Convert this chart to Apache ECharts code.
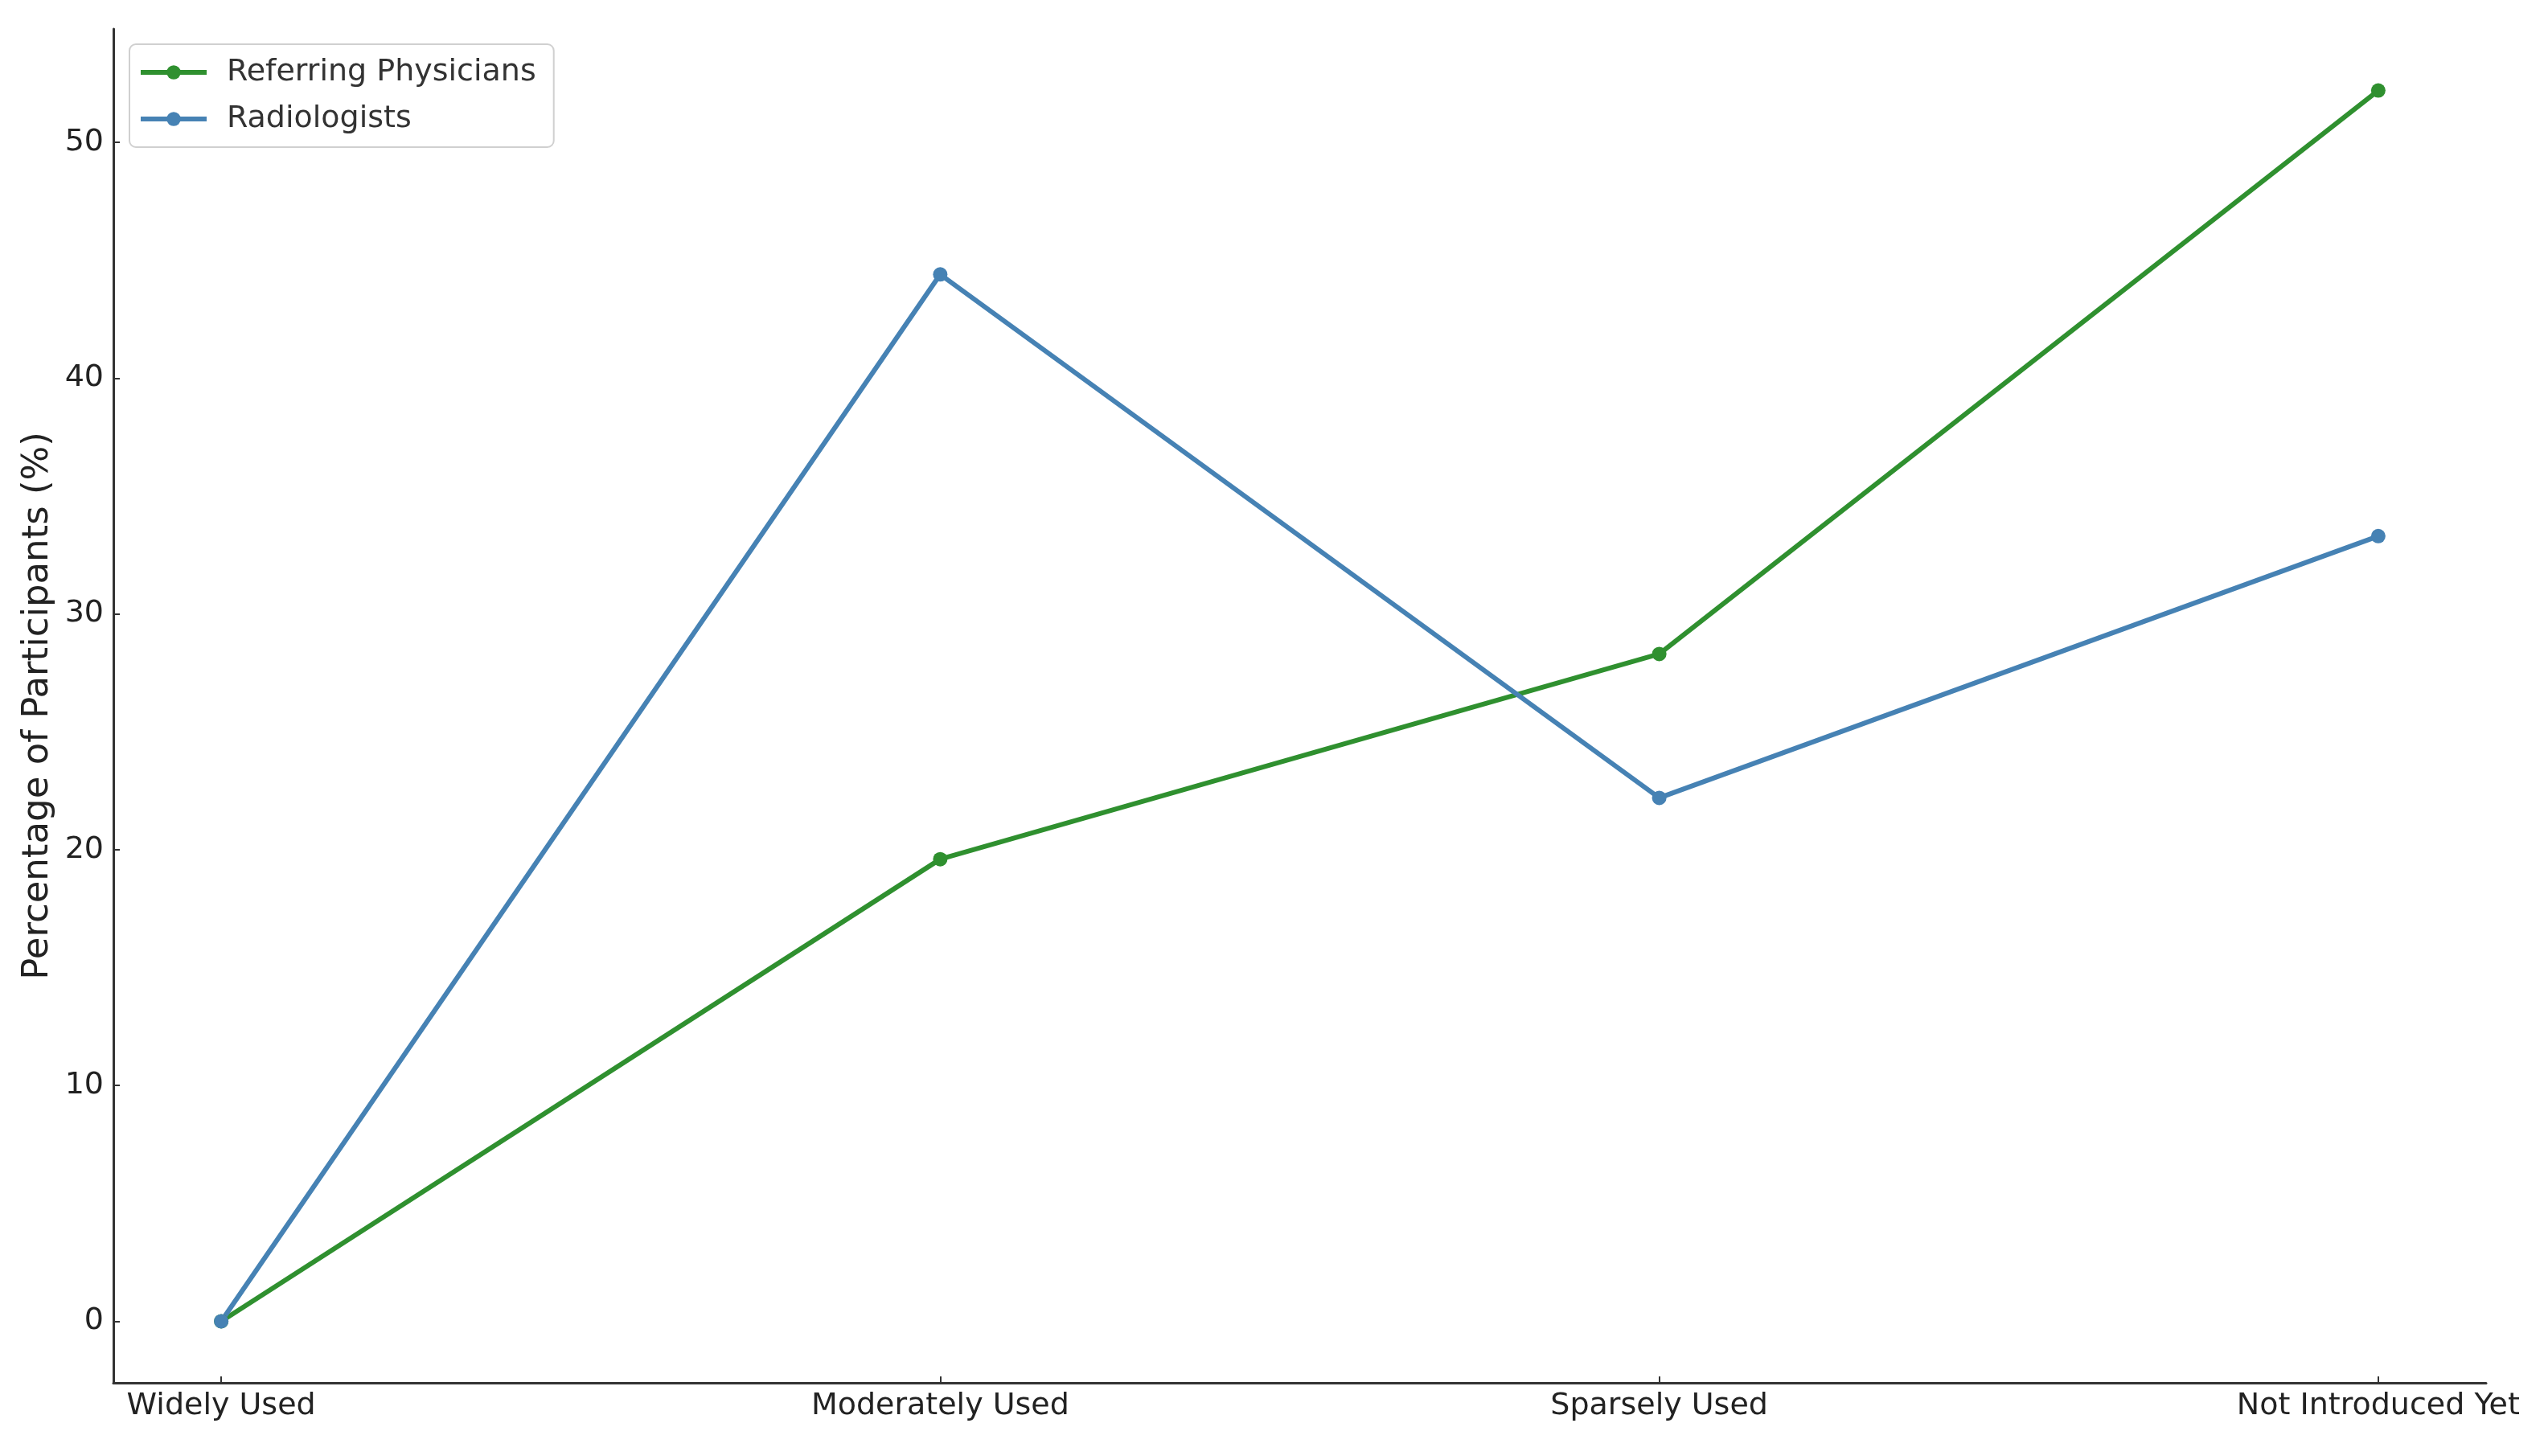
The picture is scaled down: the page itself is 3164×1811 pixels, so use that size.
<!DOCTYPE html>
<html>
<head>
<meta charset="utf-8">
<script src="https://cdn.jsdelivr.net/npm/echarts@6/dist/echarts.min.js"></script>
<style>
html,body{margin:0;padding:0;background:#fff;}
#chart{width:3164px;height:1811px;}
</style>
</head>
<body>
<div id="chart"></div>
<script>
const categories = ['Widely Used', 'Moderately Used', 'Sparsely Used', 'Not Introduced Yet'];
const referringPhysicians = [0, 19.6, 28.3, 52.2];
const radiologists = [0, 44.4, 22.2, 33.3];
const yTicks = [0, 10, 20, 30, 40, 50];
const seriesNames = ['Referring Physicians', 'Radiologists'];

const xIdx = categories.map((c, i) => i);
const allVals = referringPhysicians.concat(radiologists);
const lo = Math.min.apply(null, allVals), hi = Math.max.apply(null, allVals);
const pad = 0.05 * (hi - lo);
const xPad = 0.05 * (categories.length - 1);

const font = 'DejaVu Sans';
const axisColor = '#333333';
const green = '#2f902f';
const blue = '#4682b4';

const chart = echarts.init(document.getElementById('chart'));
chart.setOption({
  backgroundColor: '#ffffff',
  animation: false,
  grid: { left: 141, right: 72, top: 36, bottom: 91, containLabel: false },
  legend: {
    orient: 'vertical',
    left: 161,
    top: 55,
    padding: [12, 22, 12, 11],
    itemWidth: 82,
    itemHeight: 22,
    itemGap: 12,
    backgroundColor: 'rgba(255,255,255,0.8)',
    borderColor: '#d0d0d0',
    borderWidth: 2,
    borderRadius: 8,
    lineStyle: { width: 6 },
    textStyle: { fontFamily: font, fontSize: 38, color: '#333333', lineHeight: 46, padding: [0, 0, 0, 20] },
    data: seriesNames
  },
  xAxis: {
    type: 'value',
    min: -xPad,
    max: categories.length - 1 + xPad,
    splitLine: { show: false },
    axisLine: { show: true, onZero: false, lineStyle: { color: axisColor, width: 3 } },
    axisTick: { show: true, inside: true, length: 8, customValues: xIdx, lineStyle: { color: axisColor, width: 2 } },
    axisLabel: {
      customValues: xIdx,
      margin: 10,
      fontFamily: font, fontSize: 38, color: '#222222',
      formatter: function (v) { return categories[Math.round(v)]; }
    }
  },
  yAxis: {
    type: 'value',
    min: lo - pad,
    max: hi + pad,
    name: 'Percentage of Participants (%)',
    nameLocation: 'middle',
    nameGap: 50,
    nameTextStyle: { fontFamily: font, fontSize: 45, color: '#222222' },
    splitLine: { show: false },
    axisLine: { show: true, onZero: false, lineStyle: { color: axisColor, width: 3 } },
    axisTick: { show: true, inside: true, length: 8, customValues: yTicks, lineStyle: { color: axisColor, width: 2 } },
    axisLabel: {
      customValues: yTicks,
      margin: 12,
      fontFamily: font, fontSize: 38, color: '#222222'
    }
  },
  series: [
    {
      name: seriesNames[0],
      type: 'line',
      data: referringPhysicians.map((v, i) => [i, v]),
      symbol: 'circle',
      symbolSize: 18,
      color: green,
      lineStyle: { width: 6, color: green },
      itemStyle: { color: green }
    },
    {
      name: seriesNames[1],
      type: 'line',
      data: radiologists.map((v, i) => [i, v]),
      symbol: 'circle',
      symbolSize: 18,
      color: blue,
      lineStyle: { width: 6, color: blue },
      itemStyle: { color: blue }
    }
  ]
});
</script>
</body>
</html>
